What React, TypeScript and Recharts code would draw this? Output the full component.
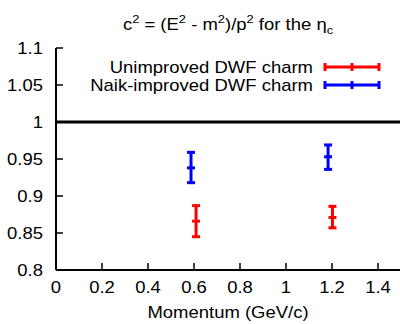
import React from "react";
import {
  ComposedChart,
  Scatter,
  XAxis,
  YAxis,
  ErrorBar,
  ReferenceLine,
  Customized,
} from "recharts";

const xTicks = [0, 0.2, 0.4, 0.6, 0.8, 1, 1.2, 1.4];
const yTicks = [0.8, 0.85, 0.9, 0.95, 1, 1.05, 1.1];
const xTickLabels = ["0", "0.2", "0.4", "0.6", "0.8", "1", "1.2", "1.4"];
const yTickLabels = ["0.8", "0.85", "0.9", "0.95", "1", "1.05", "1.1"];

const unimprovedMomentum = [0.609, 1.202];
const unimprovedC2 = [0.866, 0.871];
const unimprovedErrLow = [0.021, 0.014];
const unimprovedErrHigh = [0.021, 0.015];

const naikMomentum = [0.587, 1.183];
const naikC2 = [0.938, 0.953];
const naikErrLow = [0.02, 0.017];
const naikErrHigh = [0.021, 0.016];

const seriesNames = ["Unimproved DWF charm", "Naik-improved DWF charm"];
const seriesColors = ["#ff0000", "#0000ff"];

const unimprovedData = unimprovedMomentum.map((x, i) => ({
  x,
  y: unimprovedC2[i],
  err: [unimprovedErrLow[i], unimprovedErrHigh[i]],
}));
const naikData = naikMomentum.map((x, i) => ({
  x,
  y: naikC2[i],
  err: [naikErrLow[i], naikErrHigh[i]],
}));

const FONT = "'Liberation Sans', Arial, Helvetica, sans-serif";
const FS = 15.8;
const SX = 1.17;

const W = 410;
const H = 324;
const PLOT_LEFT = 56;
const PLOT_TOP = 48;
const PLOT_BOTTOM = 270;
const PLOT_RIGHT = 401;
const TICK_LEN = 7;

const SText = ({ x, y, anchor, children }: any) => (
  <text
    transform={`translate(${x},${y}) scale(${SX},1)`}
    x={0}
    y={0}
    textAnchor={anchor}
    fontFamily={FONT}
    fontSize={FS}
    fill="#000"
  >
    {children}
  </text>
);

const BottomTick = (props: any) => {
  const { x, payload } = props;
  const idx = xTicks.findIndex((t) => Math.abs(t - payload.value) < 1e-9);
  const label = idx >= 0 ? xTickLabels[idx] : String(payload.value);
  return (
    <g>
      <line x1={x} x2={x} y1={PLOT_BOTTOM} y2={PLOT_BOTTOM - TICK_LEN} stroke="#000" strokeWidth={1.5} />
      <SText x={x} y={293} anchor="middle">{label}</SText>
    </g>
  );
};

const TopTick = (props: any) => {
  const { x } = props;
  return <line x1={x} x2={x} y1={PLOT_TOP} y2={PLOT_TOP + TICK_LEN} stroke="#000" strokeWidth={1.5} />;
};

const LeftTick = (props: any) => {
  const { y, payload } = props;
  const idx = yTicks.findIndex((t) => Math.abs(t - payload.value) < 1e-9);
  const label = idx >= 0 ? yTickLabels[idx] : String(payload.value);
  return (
    <g>
      <line x1={PLOT_LEFT} x2={PLOT_LEFT + TICK_LEN} y1={y} y2={y} stroke="#000" strokeWidth={1.5} />
      <SText x={43} y={y + 5.6} anchor="end">{label}</SText>
    </g>
  );
};

const RightTick = (props: any) => {
  const { y } = props;
  return <line x1={PLOT_RIGHT} x2={PLOT_RIGHT - TICK_LEN} y1={y} y2={y} stroke="#000" strokeWidth={1.5} />;
};

const makeShape = (color: string) => (props: any) => {
  const { cx, cy } = props;
  if (cx == null || cy == null) return <g />;
  return <line x1={cx - 4} x2={cx + 4} y1={cy} y2={cy} stroke={color} strokeWidth={3} />;
};

const Overlay = () => {
  const rows = [67, 85];
  return (
    <g>
      <SText x={228} y={30} anchor="middle">
        c<tspan dy={-7} fontSize={11}>2</tspan>
        <tspan dy={7}> = (E</tspan>
        <tspan dy={-7} fontSize={11}>2</tspan>
        <tspan dy={7}> - m</tspan>
        <tspan dy={-7} fontSize={11}>2</tspan>
        <tspan dy={7}>)/p</tspan>
        <tspan dy={-7} fontSize={11}>2</tspan>
        <tspan dy={7}> for the η</tspan>
        <tspan dy={4} fontSize={11}>c</tspan>
      </SText>
      <SText x={228} y={318} anchor="middle">Momentum (GeV/c)</SText>
      {seriesNames.map((name, i) => (
        <g key={name}>
          <SText x={313} y={rows[i] + 5.6} anchor="end">{name}</SText>
          <line x1={325} x2={379} y1={rows[i]} y2={rows[i]} stroke={seriesColors[i]} strokeWidth={3} />
          {[325, 352, 379].map((lx) => (
            <line key={lx} x1={lx} x2={lx} y1={rows[i] - 4} y2={rows[i] + 4} stroke={seriesColors[i]} strokeWidth={3} />
          ))}
        </g>
      ))}
    </g>
  );
};

export default function App() {
  return (
    <div style={{ position: "absolute", left: 0, top: 0, width: 400, height: 324, overflow: "hidden", background: "#fff" }}>
      <ComposedChart
        width={W}
        height={H}
        margin={{ top: PLOT_TOP, right: W - PLOT_RIGHT, bottom: 0, left: 0 }}
      >
        <XAxis
          xAxisId="bottom"
          dataKey="x"
          type="number"
          domain={[0, 1.5]}
          ticks={xTicks}
          orientation="bottom"
          height={H - PLOT_BOTTOM}
          axisLine={{ stroke: "#000", strokeWidth: 2 }}
          tickLine={false}
          tick={<BottomTick />}
          interval={0}
          allowDataOverflow
        />
        <XAxis
          xAxisId="top"
          dataKey="x"
          type="number"
          domain={[0, 1.5]}
          ticks={xTicks}
          orientation="top"
          height={0}
          axisLine={{ stroke: "#000", strokeWidth: 2 }}
          tickLine={false}
          tick={<TopTick />}
          interval={0}
          allowDataOverflow
        />
        <YAxis
          yAxisId="left"
          dataKey="y"
          type="number"
          domain={[0.8, 1.1]}
          ticks={yTicks}
          orientation="left"
          width={PLOT_LEFT}
          axisLine={{ stroke: "#000", strokeWidth: 2 }}
          tickLine={false}
          tick={<LeftTick />}
          interval={0}
          allowDataOverflow
        />
        <YAxis
          yAxisId="right"
          dataKey="y"
          type="number"
          domain={[0.8, 1.1]}
          ticks={yTicks}
          orientation="right"
          width={0}
          axisLine={{ stroke: "#000", strokeWidth: 2 }}
          tickLine={false}
          tick={<RightTick />}
          interval={0}
          allowDataOverflow
        />
        <ReferenceLine xAxisId="bottom" yAxisId="left" y={1} stroke="#000" strokeWidth={3} />
        <Scatter
          xAxisId="bottom"
          yAxisId="left"
          name={seriesNames[0]}
          data={unimprovedData}
          fill={seriesColors[0]}
          shape={makeShape(seriesColors[0])}
          isAnimationActive={false}
        >
          <ErrorBar dataKey="err" direction="y" width={4} stroke={seriesColors[0]} strokeWidth={3} isAnimationActive={false} />
        </Scatter>
        <Scatter
          xAxisId="bottom"
          yAxisId="left"
          name={seriesNames[1]}
          data={naikData}
          fill={seriesColors[1]}
          shape={makeShape(seriesColors[1])}
          isAnimationActive={false}
        >
          <ErrorBar dataKey="err" direction="y" width={4} stroke={seriesColors[1]} strokeWidth={3} isAnimationActive={false} />
        </Scatter>
        <Customized component={<Overlay />} />
      </ComposedChart>
    </div>
  );
}
